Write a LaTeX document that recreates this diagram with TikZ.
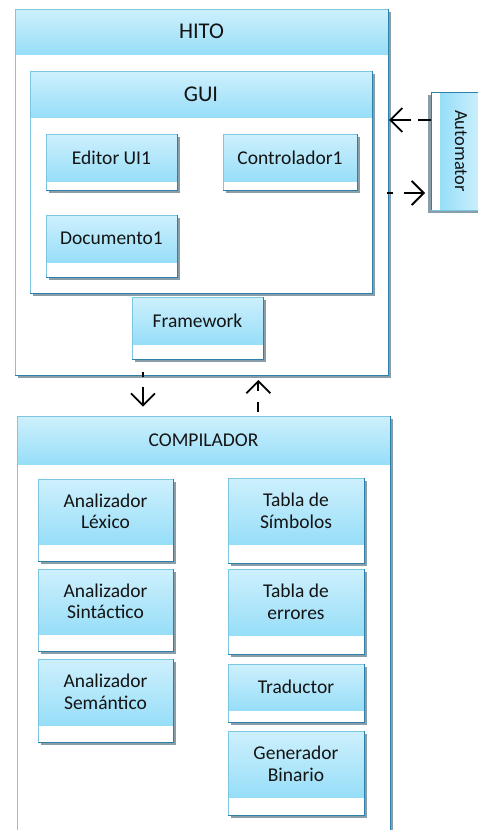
\documentclass[tikz,border=0pt]{standalone}
\usepackage{fontspec}
\setmainfont{Carlito}
\usetikzlibrary{shadows,arrows.meta}
\definecolor{headtop}{HTML}{CEF0FD}
\definecolor{headbot}{HTML}{97DEF8}
\definecolor{bordL}{HTML}{7CC6E2}
\definecolor{bordD}{HTML}{2E80A8}
\definecolor{shadowc}{HTML}{8A9EA9}
\definecolor{txt}{HTML}{141414}
\tikzset{
  bodybox/.style={rectangle, fill=white, inner sep=0pt, outer sep=0pt,
    drop shadow={shadow xshift=3pt, shadow yshift=-3pt, fill=shadowc, opacity=1}},
  bodyboxL/.style={rectangle, fill=white, inner sep=0pt, outer sep=0pt,
    drop shadow={shadow xshift=-3pt, shadow yshift=-3pt, fill=shadowc, opacity=1}},
  headbox/.style={rectangle, inner sep=0pt, outer sep=0pt, top color=headtop,
    bottom color=headbot, align=center, text=txt},
  lightedge/.style={draw=bordL, line width=1pt},
  darkedge/.style={draw=bordD, line width=1pt},
  dep/.style={draw=black, line width=1.8pt, -{Straight Barb[length=12pt,width=24pt]}},
  fnorm/.style={font=\fontsize{19.5}{21.5}\selectfont},
  fbig/.style={font=\fontsize{22.5}{25}\selectfont},
}
% name, x1, y1, x2, y2, y of header bottom, text, font style
\newcommand\myumlbox[8]{%
  \node[bodybox, minimum width={(#4)-(#2)}, minimum height={(#5)-(#3)}]
    (#1) at ({((#2)+(#4))/2},{((#3)+(#5))/2}) {};
  \node[headbox, #8, minimum width={(#4)-(#2)}, minimum height={(#6)-(#3)}, anchor=north]
    (#1-h) at (#1.north) {#7};
  \draw[lightedge] (#1.south west) |- (#1.north east);
  \draw[darkedge] (#1.north east) |- (#1.south west);
}
\begin{document}
\begin{tikzpicture}[x=1pt,y=-1pt]
\useasboundingbox (0,0) rectangle (478,830);
\clip (0,0) rectangle (478,830);
\fill[white] (0,0) rectangle (478,830);

\myumlbox{hito}{15}{9}{388}{375}{54.5}{HITO}{fbig}
\myumlbox{gui}{30}{71}{372}{293}{117}{GUI}{fbig}
\myumlbox{edit}{46}{134}{177}{190}{181}{Editor UI1}{fnorm}
\myumlbox{ctrl}{223}{134}{357}{190}{181}{Controlador1}{fnorm}
\myumlbox{doc}{46}{215}{177}{277}{262}{Documento1}{fnorm}
\myumlbox{fw}{132}{297}{263}{359}{344}{Framework}{fnorm}

\myumlbox{comp}{17}{416}{390}{840}{464}{COMPILADOR}{fnorm}
\myumlbox{lex}{38}{479}{173}{561}{544}{Analizador\\Léxico}{fnorm}
\myumlbox{sin}{38}{569}{173}{651}{634}{Analizador\\Sintáctico}{fnorm}
\myumlbox{sem}{38}{659}{173}{742}{725}{Analizador\\Semántico}{fnorm}
\myumlbox{sim}{228}{478}{364}{563}{544}{Tabla de\\Símbolos}{fnorm}
\myumlbox{err}{228}{569}{364}{654}{635}{Tabla de\\errores}{fnorm}
\myumlbox{tra}{228}{664}{364}{722}{710}{Traductor}{fnorm}
\myumlbox{gen}{228}{731}{364}{815}{797}{Generador\\Binario}{fnorm}

% Automator (rotated box)
\node[bodyboxL, minimum width=51, minimum height=118] (auto) at (456.5,151) {};
\node[rectangle, inner sep=0pt, outer sep=0pt, left color=headbot, right color=headtop,
  text=txt, font=\fontsize{18.5}{21}\selectfont, minimum width=42, minimum height=118, anchor=east]
  (auto-h) at (auto.east) {\rotatebox{-90}{Automator}};
\draw[darkedge] (auto.south west) |- (auto.north east);
\draw[lightedge] (auto.north east) |- (auto.south west);

% connectors
\coordinate (xa) at (143,0);
\coordinate (xb) at (258.3,0);
\coordinate (ya) at (0,120);
\coordinate (yb) at (0,193);
\draw[dep, dash pattern=on 20pt off 10pt, dash phase=15pt, shorten <=12.7pt, shorten >=9.3pt]
  (fw.south -| xa) -- (comp.north -| xa);
\draw[dep, dash pattern=on 20pt off 11pt, dash phase=10pt, shorten <=4.3pt, shorten >=5pt]
  (comp.north -| xb) -- (hito.south -| xb);
\draw[dep, dash pattern=on 20pt off 7pt, dash phase=7pt, shorten >=1pt]
  (auto.west |- ya) -- (hito.east |- ya);
\draw[dep, dash pattern=on 21pt off 11pt, dash phase=15pt, shorten <=-1pt, shorten >=6pt]
  (hito.east |- yb) -- (auto.west |- yb);
\end{tikzpicture}
\end{document}
